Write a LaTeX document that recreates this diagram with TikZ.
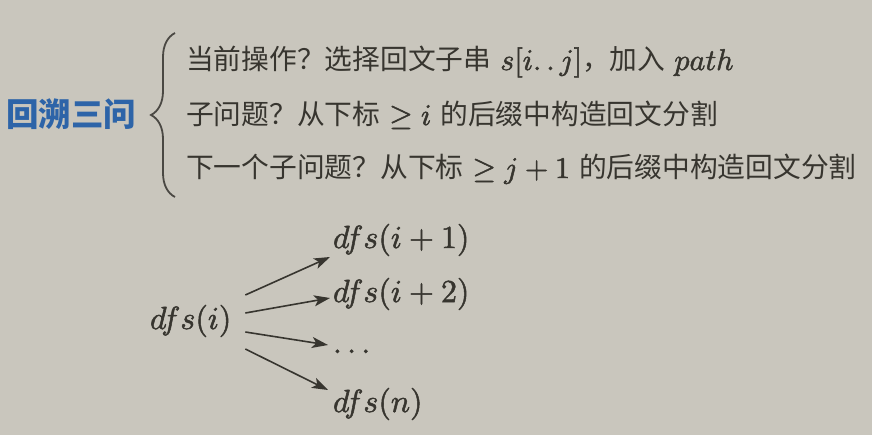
\RequirePackage{fix-cm}
\documentclass[tikz,border=0pt]{standalone}
\usepackage{fontspec}
\DeclareFontShape{OML}{cmm}{m}{it}{<->cmmi10}{}
\DeclareFontShape{OMS}{cmsy}{m}{n}{<->cmsy10}{}
\DeclareFontShape{OT1}{cmr}{m}{n}{<->cmr10}{}
\newfontfamily\cjk[Scale=0.925]{Noto Sans CJK SC}
\newfontfamily\cjktitle{Noto Sans CJK SC}
\newcommand\heavytext[1]{\special{pdf:literal direct 2 Tr 0.5 w}#1\special{pdf:literal direct 0 Tr}}
\usetikzlibrary{decorations.pathreplacing,arrows.meta,calc}
\definecolor{bg}{HTML}{C9C6BD}
\definecolor{ink}{HTML}{37352F}
\definecolor{titleblue}{HTML}{2D64A8}
\definecolor{bracecol}{HTML}{4A4843}
\begin{document}
\begin{tikzpicture}[x=1pt,y=-1pt,
  every node/.style={inner sep=0pt, outer sep=0pt, text=ink},
  textline/.style={anchor=base west, font=\fontsize{30}{36}\selectfont},
  mathnode/.style={anchor=base west, font=\fontsize{32}{38}\selectfont},
  arr/.style={draw=ink, line width=1.6pt, -{Stealth[length=16pt,width=11pt,inset=4pt]}}]
\fill[bg] (0,0) rectangle (872,435);
\useasboundingbox (0,0) rectangle (872,435);

\node[anchor=west, font=\fontsize{32.5}{38}\selectfont\cjktitle\bfseries, text=titleblue] (title) at (6,114) {回溯三问};

\coordinate (bt) at (175,33);
\coordinate (bb) at (175,197);
\draw[bracecol, line width=1.8pt, decorate, decoration={brace, amplitude=24pt}] (bb) -- (bt);

\node[textline] (l1) at (186,70) {{\cjk 当前操作？选择回文子串} \heavytext{$s[i\ldotp\ldotp j]$}{\cjk ，加入} \heavytext{$path$}};
\node[textline] (l2) at (186,125) {{\cjk 子问题？从下标} \heavytext{$\geq i$} {\cjk 的后缀中构造回文分割}};
\node[textline] (l3) at (186,178) {{\cjk 下一个子问题？从下标} \heavytext{$\geq j+1$} {\cjk 的后缀中构造回文分割}};

\node[mathnode] (d0) at (150,329) {\heavytext{$dfs(i)$}};
\node[mathnode] (d1) at (333,248) {\heavytext{$dfs(i+1)$}};
\node[mathnode] (d2) at (333,302) {\heavytext{$dfs(i+2)$}};
\node[mathnode] (d3) at (333,353) {\heavytext{$\ldots$}};
\node[mathnode] (d4) at (333,412) {\heavytext{$dfs(n)$}};

\draw[arr] ($(d0.east)+(14,-26)$) -- ($(d1.south west)+(-3,1)$);
\draw[arr] ($(d0.east)+(14,-8)$) -- ($(d2.west)+(-3,4)$);
\draw[arr] ($(d0.east)+(14,11)$) -- ($(d3.base west)+(-5,-8)$);
\draw[arr] ($(d0.east)+(14,28)$) -- ($(d4.base west)+(-5,-22)$);
\end{tikzpicture}
\end{document}
